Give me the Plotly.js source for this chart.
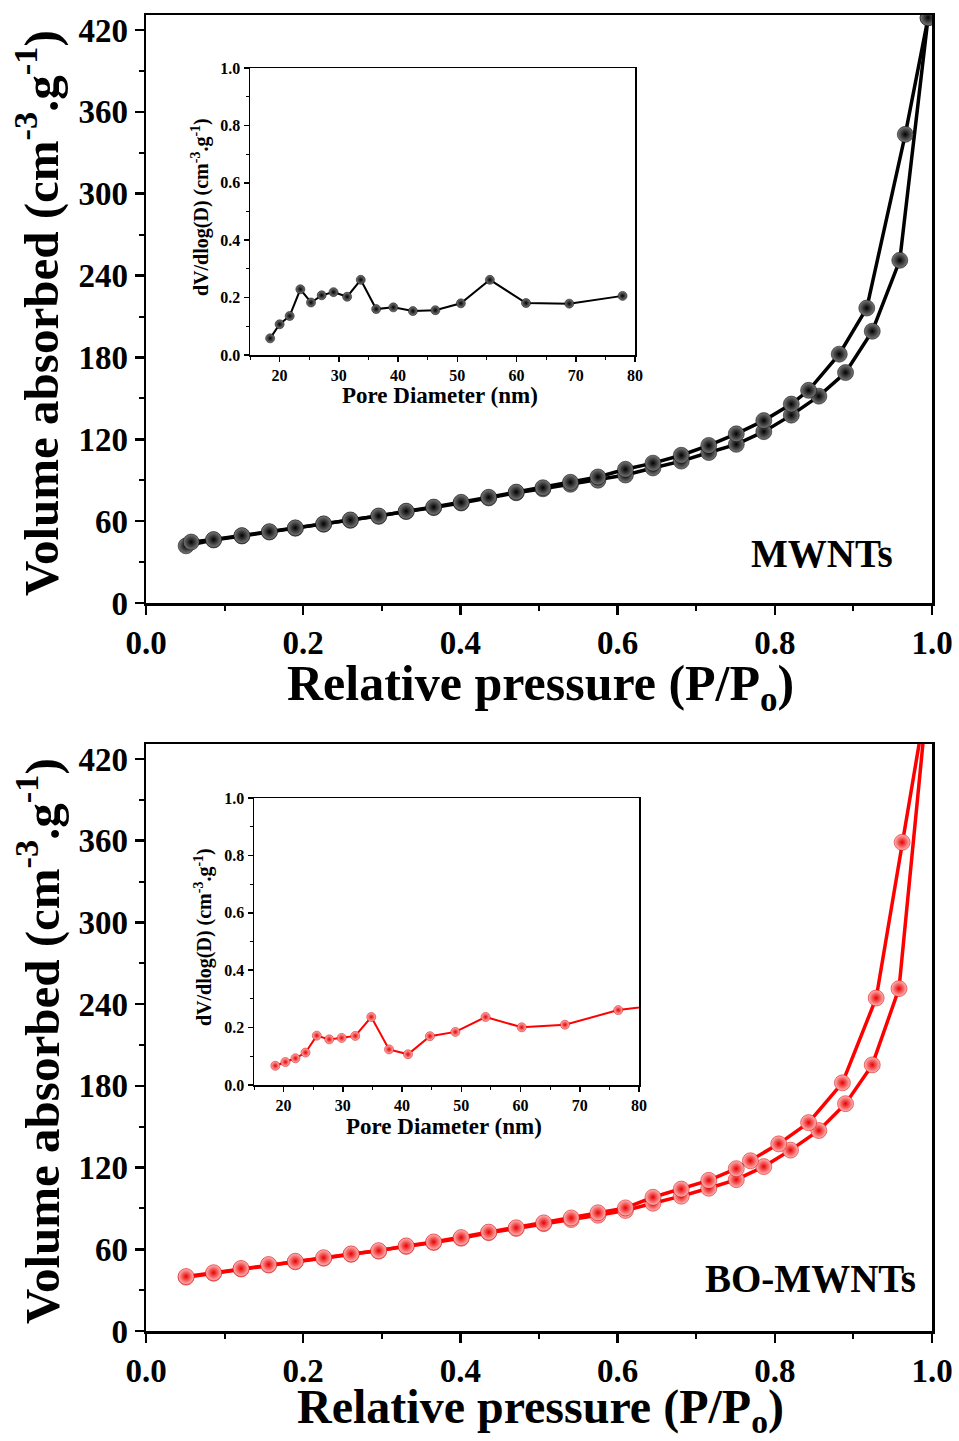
<!DOCTYPE html>
<html>
<head>
<meta charset="utf-8">
<script src="https://cdn.plot.ly/plotly-3.0.1.min.js"></script>
<style>body{margin:0;padding:0;background:#fff}#chart{width:959px;height:1441px}</style>
</head>
<body>
<div id="chart"></div>
<script>
// ---- MWNTs isotherm ----
const mwAdsX = [0.051,0.086,0.122,0.157,0.190,0.226,0.260,0.296,0.331,0.366,0.401,0.436,0.471,0.505,0.540,0.575,0.610,0.645,0.681,0.716,0.751,0.786,0.821,0.856,0.890,0.924,0.959,0.995];
const mwAdsY = [41.9,46.2,49.1,52.0,54.8,57.7,60.6,63.5,67.0,69.9,73.3,77.0,80.8,83.7,87.0,90.0,93.8,99.0,104.0,110.3,116.3,125.6,137.7,151.6,168.9,199.2,251.2,429];
const mwDesX = [0.995,0.966,0.917,0.882,0.843,0.821,0.786,0.751,0.716,0.681,0.645,0.610,0.575,0.540,0.505,0.471,0.436,0.401,0.366,0.331,0.296,0.260,0.226,0.190,0.157,0.122,0.086,0.0575];
const mwDesY = [429,343.5,216.2,182.4,155.9,145.8,133.7,124.0,115.5,108.3,102.5,98.0,92.4,88.5,84.5,81.3,77.5,73.8,70.3,67.3,63.8,60.9,58.0,55.1,52.3,49.4,46.5,44.7];

// ---- BO-MWNTs isotherm ----
const boAdsX = [0.051,0.086,0.121,0.156,0.190,0.226,0.261,0.296,0.331,0.366,0.401,0.436,0.471,0.506,0.541,0.575,0.610,0.645,0.681,0.716,0.751,0.786,0.820,0.856,0.890,0.924,0.958,0.995];
const boAdsY = [39.5,42.4,45.5,48.4,50.8,53.4,56.3,58.6,62.1,65.0,68.1,72.2,75.3,78.8,81.8,85.0,88.5,93.8,99.0,104.8,111.1,120.7,132.8,147.2,166.9,195.4,251.4,470];
const boDesX = [0.995,0.962,0.929,0.886,0.843,0.805,0.769,0.751,0.716,0.681,0.645,0.610,0.575,0.541,0.506,0.471,0.436,0.401,0.366,0.331,0.296,0.261,0.226,0.190,0.156,0.121,0.086,0.051];
const boDesY = [470,358.8,244.5,182.2,153.0,137.4,125.0,119.2,110.6,104.2,98.2,90.4,86.8,83.0,79.4,75.8,72.6,68.6,65.4,62.5,59.0,56.6,53.8,51.2,48.8,45.9,42.8,40.0];

// ---- Pore size distributions (insets) ----
const mwPoreD = [18.4,20.0,21.7,23.5,25.3,27.1,29.1,31.4,33.7,36.3,39.2,42.5,46.3,50.6,55.5,61.6,68.9,77.9];
const mwPoreV = [0.058,0.107,0.136,0.229,0.183,0.208,0.219,0.203,0.262,0.160,0.166,0.153,0.156,0.180,0.262,0.181,0.179,0.206];
const boPoreD = [18.6,20.3,22.0,23.7,25.6,27.7,29.8,32.1,34.8,37.8,41.0,44.7,49.0,54.1,60.2,67.5,76.5,86.0];
const boPoreV = [0.067,0.080,0.093,0.113,0.172,0.159,0.164,0.171,0.237,0.124,0.107,0.170,0.185,0.237,0.201,0.210,0.261,0.285];

const mainXTicks = [0.0,0.2,0.4,0.6,0.8,1.0];
const mainXLabels = ['0.0','0.2','0.4','0.6','0.8','1.0'];
const mainYTicks = [0,60,120,180,240,300,360,420];
const insetXTicks = [20,30,40,50,60,70,80];
const insetYTicks = [0.0,0.2,0.4,0.6,0.8,1.0];
const insetYLabels = ['0.0','0.2','0.4','0.6','0.8','1.0'];

const FONT = '"Liberation Serif", "Times New Roman", serif';
const W = 959, H = 1441;
const px = v => v / W;
const py = v => 1 - v / H;

const blackSphere = {size:16, color:'#7a7a7a', gradient:{type:'radial', color:'#000000'}, line:{color:'#000', width:0.5}};
const redSphere = {size:16, color:'#ffb8b8', gradient:{type:'radial', color:'#e80000'}, line:{color:'#d00000', width:0.5}};
const blackSmall = {size:9, color:'#7a7a7a', gradient:{type:'radial', color:'#000000'}, line:{color:'#000', width:0.5}};
const redSmall = {size:9, color:'#ffb8b8', gradient:{type:'radial', color:'#e80000'}, line:{color:'#d00000', width:0.5}};

const traces = [
  {x: mwAdsX, y: mwAdsY, xaxis:'x', yaxis:'y', mode:'lines+markers', line:{color:'#000', width:3.5}, marker: blackSphere, cliponaxis:true},
  {x: mwDesX, y: mwDesY, xaxis:'x', yaxis:'y', mode:'lines+markers', line:{color:'#000', width:3.5}, marker: blackSphere, cliponaxis:true},
  {x: boAdsX, y: boAdsY, xaxis:'x2', yaxis:'y2', mode:'lines+markers', line:{color:'#ff0000', width:3.5}, marker: redSphere, cliponaxis:true},
  {x: boDesX, y: boDesY, xaxis:'x2', yaxis:'y2', mode:'lines+markers', line:{color:'#ff0000', width:3.5}, marker: redSphere, cliponaxis:true},
  {x: mwPoreD, y: mwPoreV, xaxis:'x3', yaxis:'y3', mode:'lines+markers', line:{color:'#000', width:2}, marker: blackSmall, cliponaxis:true},
  {x: boPoreD, y: boPoreV, xaxis:'x4', yaxis:'y4', mode:'lines+markers', line:{color:'#ff0000', width:2}, marker: redSmall, cliponaxis:true}
];

function mainX(domainY, anchor){
  return {domain:[px(146), px(932)], range:[0,1], anchor:anchor, showgrid:false, zeroline:false,
    showline:true, linecolor:'#000', linewidth:2.5, mirror:true,
    ticks:'outside', ticklen:9, tickwidth:2.5, tickcolor:'#000',
    tickvals: mainXTicks, ticktext: mainXLabels,
    minor:{ticks:'outside', ticklen:5, tickwidth:2, tickcolor:'#000', dtick:0.1, tick0:0, showgrid:false},
    tickfont:{family:FONT, size:33, color:'#000', weight:'bold'}};
}
function mainY(domain, anchor){
  return {domain:domain, range:[0,431], anchor:anchor, showgrid:false, zeroline:false,
    showline:true, linecolor:'#000', linewidth:2.5, mirror:true,
    ticks:'outside', ticklen:9, tickwidth:2.5, tickcolor:'#000',
    tickvals: mainYTicks,
    minor:{ticks:'outside', ticklen:5, tickwidth:2, tickcolor:'#000', dtick:30, tick0:0, showgrid:false},
    tickfont:{family:FONT, size:33, color:'#000', weight:'bold'}};
}
function insetX(domain, anchor){
  return {domain:domain, range:[15,80], anchor:anchor, showgrid:false, zeroline:false,
    showline:true, linecolor:'#000', linewidth:1.5, mirror:true,
    ticks:'outside', ticklen:5, tickwidth:1.5, tickcolor:'#000',
    tickvals: insetXTicks,
    minor:{ticks:'outside', ticklen:3, tickwidth:1, tickcolor:'#000', dtick:5, tick0:15, showgrid:false},
    tickfont:{family:FONT, size:16, color:'#000', weight:'bold'}};
}
function insetY(domain, anchor){
  return {domain:domain, range:[0,1], anchor:anchor, showgrid:false, zeroline:false,
    showline:true, linecolor:'#000', linewidth:1.5, mirror:true,
    ticks:'outside', ticklen:5, tickwidth:1.5, tickcolor:'#000',
    tickvals: insetYTicks, ticktext: insetYLabels,
    minor:{ticks:'outside', ticklen:3, tickwidth:1, tickcolor:'#000', dtick:0.1, tick0:0, showgrid:false},
    tickfont:{family:FONT, size:16, color:'#000', weight:'bold'}};
}

const ann = (text, x, y, size, angle, extra) => Object.assign({
  text:text, xref:'paper', yref:'paper', x:x, y:y, xanchor:'center', yanchor:'middle',
  showarrow:false, textangle:angle||0, font:{family:FONT, size:size, color:'#000', weight:'bold'}}, extra||{});

const layout = {
  width: W, height: H, margin:{l:0, r:0, t:0, b:0},
  paper_bgcolor:'#fff', plot_bgcolor:'rgba(0,0,0,0)', showlegend:false,
  xaxis: mainX(null,'y'),
  yaxis: mainY([py(603), py(15)], 'x'),
  xaxis2: mainX(null,'y2'),
  yaxis2: mainY([py(1331), py(744)], 'x2'),
  xaxis3: insetX([px(250), px(635)], 'y3'),
  yaxis3: insetY([py(355), py(68)], 'x3'),
  xaxis4: insetX([px(254), px(639)], 'y4'),
  yaxis4: insetY([py(1085), py(798)], 'x4'),
  annotations: [
    ann('Volume absorbed (cm<sup>-3</sup>.g<sup>-1</sup>)', px(38), py(313), 49, -90),
    ann('Relative pressure (P/P<sub>o</sub>)', px(540), py(687), 50, 0),
    ann('Volume absorbed (cm<sup>-3</sup>.g<sup>-1</sup>)', px(38), py(1041), 49, -90),
    ann('Relative pressure (P/P<sub>o</sub>)', px(540), py(1410), 48, 0),
    ann('MWNTs', px(822), py(553), 39, 0),
    ann('BO-MWNTs', px(810), py(1278), 39, 0),
    ann('Pore Diameter (nm)', px(440), py(395), 23, 0),
    ann('dV/dlog(D) (cm<sup>-3</sup>.g<sup>-1</sup>)', px(200), py(207), 20, -90),
    ann('Pore Diameter (nm)', px(444), py(1126), 23, 0),
    ann('dV/dlog(D) (cm<sup>-3</sup>.g<sup>-1</sup>)', px(203), py(937), 20, -90)
  ]
};

Plotly.newPlot('chart', traces, layout, {staticPlot:true, displayModeBar:false});
</script>
</body>
</html>
